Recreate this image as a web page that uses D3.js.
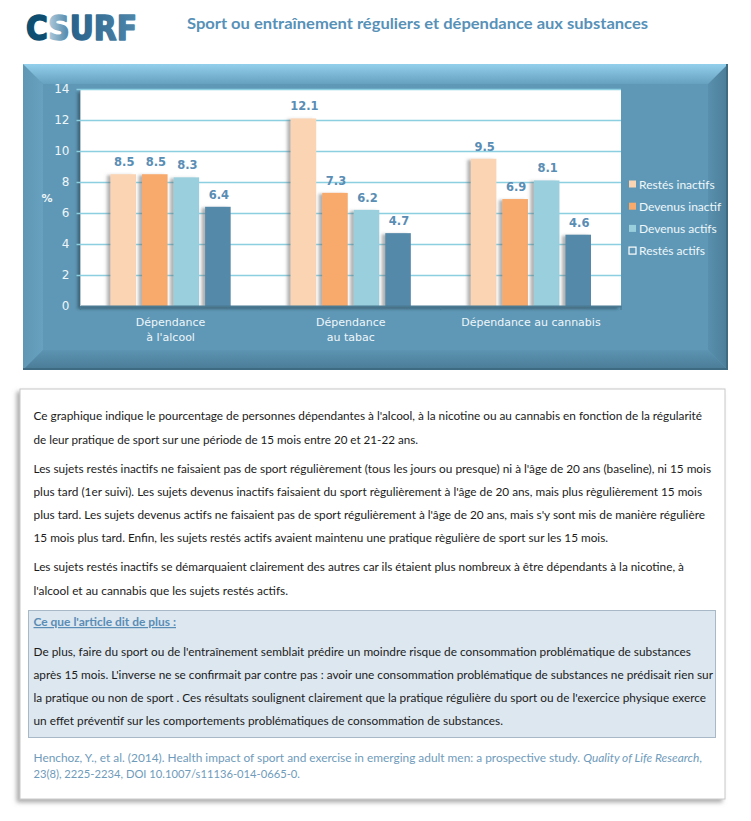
<!DOCTYPE html>
<html><head><meta charset="utf-8">
<script src="https://cdn.jsdelivr.net/npm/d3@7/dist/d3.min.js"></script>
<style>body{margin:0;background:#fff}svg{display:block}</style>
</head><body><svg id="c" width="751" height="821"></svg>
<script>
// ---- chart data ----
const categories = ["Dépendance\nà l'alcool", "Dépendance\nau tabac", "Dépendance au cannabis"];
const seriesNames = ["Restés inactifs", "Devenus inactif", "Devenus actifs", "Restés actifs"];
const restesInactifs = [8.5, 12.1, 9.5];
const devenusInactif = [8.5, 7.3, 6.9];
const devenusActifs = [8.3, 6.2, 8.1];
const restesActifs = [6.4, 4.7, 4.6];
const yTicks = [0, 2, 4, 6, 8, 10, 12, 14];
const seriesColors = ["#fbd4b4", "#f8aa6c", "#9acfdd", "#5589a9"];
const title = "Sport ou entraînement réguliers et dépendance aux substances";

const seriesValues = [restesInactifs, devenusInactif, devenusActifs, restesActifs];

// ---- text block content ----
const para = [
  {t: "Ce graphique indique le pourcentage de personnes dépendantes à l'alcool, à la nicotine ou au cannabis en fonction de la régularité", y: 420, x2: 702},
  {t: "de leur pratique de sport sur une période de 15 mois entre 20 et 21-22 ans.", y: 444, x2: 418},
  {t: "Les sujets restés inactifs ne faisaient pas de sport régulièrement (tous les jours ou presque) ni à l'âge de 20 ans (baseline), ni 15 mois", y: 473, x2: 711},
  {t: "plus tard (1er suivi). Les sujets devenus inactifs faisaient du sport règulièrement à l'âge de 20 ans, mais plus règulièrement 15 mois", y: 496, x2: 702},
  {t: "plus tard. Les sujets devenus actifs ne faisaient pas de sport régulièrement à l'âge de 20 ans, mais s'y sont mis de manière régulière", y: 519, x2: 705},
  {t: "15 mois plus tard. Enfin, les sujets restés actifs avaient maintenu une pratique règulière de sport sur les 15 mois.", y: 542, x2: 608},
  {t: "Les sujets restés inactifs se démarquaient clairement des autres car ils étaient plus nombreux à être dépendants à la nicotine, à", y: 571, x2: 684},
  {t: "l'alcool et au cannabis que les sujets restés actifs.", y: 595, x2: 288}
];
const boxHeading = {t: "Ce que l'article dit de plus :", y: 626, x2: 176};
const boxLines = [
  {t: "De plus, faire du sport ou de l'entraînement semblait prédire un moindre risque de consommation problématique de substances", y: 656, x2: 691},
  {t: "après 15 mois. L'inverse ne se confirmait par contre pas : avoir une consommation problématique de substances ne prédisait rien sur", y: 679, x2: 713},
  {t: "la pratique ou non de sport . Ces résultats soulignent clairement que la pratique régulière du sport ou de l'exercice physique exerce", y: 702, x2: 706},
  {t: "un effet préventif sur les comportements problématiques de consommation de substances.", y: 725, x2: 503}
];

const svg = d3.select("#c");
const defs = svg.append("defs");
function lg(id, x2, y2, stops) {
  const g = defs.append("linearGradient").attr("id", id).attr("x1", 0).attr("y1", 0).attr("x2", x2).attr("y2", y2);
  stops.forEach(s => g.append("stop").attr("offset", s[0]).attr("stop-color", s[1]));
}
lg("gTop", 0, 1, [[0, "#93d0ec"], [1, "#66a1bf"]]);
lg("gLeft", 1, 0, [[0, "#5f97b4"], [1, "#67a1bf"]]);
lg("gRight", 1, 0, [[0, "#5990ad"], [1, "#4b7d98"]]);
lg("gBot", 0, 1, [[0, "#5c94b1"], [1, "#4a7b96"]]);
lg("gLogo", 1, 0, [[0, "#0e4e71"], [0.2, "#0e4e71"], [0.215, "#a9c6d8"], [0.39, "#4d85a8"], [0.405, "#28618a"], [1, "#4f86aa"]]);
const f1 = defs.append("filter").attr("id", "shPlot").attr("x", "-5%").attr("y", "-5%").attr("width", "110%").attr("height", "110%");
f1.append("feDropShadow").attr("dx", -3).attr("dy", 3).attr("stdDeviation", 1.8).attr("flood-color", "#1f3a4a").attr("flood-opacity", 0.55);
const f2 = defs.append("filter").attr("id", "shBar").attr("x", "-40%").attr("y", "-5%").attr("width", "150%").attr("height", "110%");
f2.append("feDropShadow").attr("dx", -3.5).attr("dy", 1).attr("stdDeviation", 1.4).attr("flood-color", "#666").attr("flood-opacity", 0.5);
const f3 = defs.append("filter").attr("id", "shBox").attr("x", "-3%").attr("y", "-3%").attr("width", "106%").attr("height", "106%");
f3.append("feDropShadow").attr("dx", -3).attr("dy", 3).attr("stdDeviation", 2).attr("flood-color", "#777").attr("flood-opacity", 0.6);

// ---- header ----
svg.append("text").attr("x", 26).attr("y", 39.5)
  .attr("font-family", "DejaVu Sans, Liberation Sans, sans-serif").attr("font-weight", 700)
  .attr("font-size", 34).attr("textLength", 111).attr("lengthAdjust", "spacingAndGlyphs")
  .attr("fill", "url(#gLogo)").attr("stroke", "url(#gLogo)").attr("stroke-width", 1.6).attr("stroke-linejoin", "round")
  .text("CSURF");

svg.append("text").attr("x", 187).attr("y", 29)
  .attr("font-family", "Lato, sans-serif").attr("font-weight", 700).attr("font-size", 15.5)
  .attr("fill", "#5791b8").attr("textLength", 461).attr("lengthAdjust", "spacingAndGlyphs")
  .text(title);

// ---- chart panel ----
const X0 = 23, X1 = 728, Y0 = 64, Y1 = 370, B = 20;
const panel = svg.append("g");
panel.append("rect").attr("x", X0).attr("y", Y0).attr("width", X1 - X0).attr("height", Y1 - Y0).attr("fill", "#5f98b6");
const poly = (pts, fill) => panel.append("polygon").attr("points", pts.map(p => p.join(",")).join(" ")).attr("fill", fill);
poly([[X0, Y0], [X0 + B, Y0 + B], [X0 + B, Y1 - B], [X0, Y1]], "url(#gLeft)");
poly([[X1, Y0], [X1, Y1], [X1 - B, Y1 - B], [X1 - B, Y0 + B]], "url(#gRight)");
poly([[X0, Y1], [X1, Y1], [X1 - B, Y1 - B], [X0 + B, Y1 - B]], "url(#gBot)");
poly([[X0, Y0], [X1, Y0], [X1 - B, Y0 + B], [X0 + B, Y0 + B]], "url(#gTop)");
panel.append("line").attr("x1", X0).attr("x2", X1).attr("y1", Y1 - 1).attr("y2", Y1 - 1).attr("stroke", "#3e6a82").attr("stroke-width", 2);
panel.append("line").attr("x1", X1 - 1).attr("x2", X1 - 1).attr("y1", Y0).attr("y2", Y1).attr("stroke", "#3e6a82").attr("stroke-width", 2);

// ---- scales ----
const PL = 80.5, PR = 621, PT = 89, PB = 306;
const x0 = d3.scaleBand().domain(categories).range([PL, PR]).paddingInner(0).paddingOuter(0);
const x1 = d3.scaleBand().domain(seriesNames).range([30, x0.bandwidth() - 30]).paddingInner(0.19).paddingOuter(0);
const y = d3.scaleLinear().domain([0, 14]).range([PB, PT]);
const color = d3.scaleOrdinal().domain(seriesNames).range(seriesColors);

// plot area
svg.append("rect").attr("x", PL).attr("y", PT).attr("width", PR - PL).attr("height", PB - PT)
  .attr("fill", "#fff").attr("filter", "url(#shPlot)");

// gridlines + y axis
const yAxis = d3.axisLeft(y).tickValues(yTicks).tickSize(PR - PL + 4).tickPadding(7).tickFormat(d3.format("d"));
const gy = svg.append("g").attr("transform", `translate(${PR},0)`).call(yAxis);
gy.select(".domain").remove();
gy.selectAll(".tick line").attr("stroke", "#8ccfe1").attr("stroke-width", 1.5);
gy.selectAll(".tick").filter(d => d === 0).select("line").remove();
gy.selectAll(".tick text").attr("fill", "#eef6fa").attr("font-size", 12)
  .attr("font-family", "DejaVu Sans, sans-serif").attr("x", -(PR - PL + 11));

svg.append("text").attr("x", 47).attr("y", 202).attr("text-anchor", "middle")
  .attr("font-family", "DejaVu Sans, sans-serif").attr("font-weight", 700).attr("font-size", 11)
  .attr("fill", "#eef6fa").text("%");

// bars
const groups = svg.append("g").selectAll("g").data(categories).join("g")
  .attr("transform", d => `translate(${x0(d)},0)`);
groups.selectAll("rect").data((c, ci) => seriesNames.map((s, si) => ({s, v: seriesValues[si][ci]})))
  .join("rect")
  .attr("x", d => x1(d.s)).attr("width", x1.bandwidth())
  .attr("y", d => y(d.v)).attr("height", d => y(0) - y(d.v))
  .attr("fill", d => color(d.s)).attr("filter", "url(#shBar)");
groups.selectAll("text").data((c, ci) => seriesNames.map((s, si) => ({s, v: seriesValues[si][ci]})))
  .join("text")
  .attr("x", d => x1(d.s) + x1.bandwidth() / 2 + 1).attr("y", d => y(d.v) - 8)
  .attr("text-anchor", "middle").attr("font-family", "DejaVu Sans, sans-serif").attr("font-weight", 700)
  .attr("font-size", 11.5).attr("fill", "#5a8db4").text(d => d3.format(".1f")(d.v));

// x axis
const xAxis = d3.axisBottom(x0).tickSize(0).tickFormat("");
const gx = svg.append("g").attr("transform", `translate(0,${PB})`).call(xAxis);
gx.select(".domain").attr("stroke", "#4b7a93").attr("stroke-width", 2);
const bounds = [PL, ...categories.map(c => x0(c) + x0.bandwidth())];
svg.append("g").selectAll("line").data(bounds).join("line")
  .attr("x1", d => d).attr("x2", d => d).attr("y1", PB).attr("y2", PB + 4)
  .attr("stroke", "#4b7a93").attr("stroke-width", 1.2);
svg.append("g").selectAll("text").data(categories).join("text")
  .attr("text-anchor", "middle").attr("font-family", "DejaVu Sans, sans-serif").attr("font-size", 11)
  .attr("fill", "#eef6fa")
  .each(function (c) {
    const t = d3.select(this);
    c.split("\n").forEach((line, i) => t.append("tspan").attr("x", x0(c) + x0.bandwidth() / 2).attr("y", 326 + i * 15).text(line));
  });

// legend
const lgG = svg.append("g").selectAll("g").data(seriesNames).join("g")
  .attr("transform", (d, i) => `translate(629,${184 + i * 22.2})`);
lgG.append("rect").attr("x", 0).attr("y", -3.5).attr("width", 7).attr("height", 7)
  .attr("fill", (d, i) => i === 3 ? "none" : color(d))
  .attr("stroke", (d, i) => i === 3 ? "#ffffff" : "none").attr("stroke-width", 1.2);
lgG.append("text").attr("x", 10).attr("y", 4.5).attr("font-family", "Lato, sans-serif").attr("font-size", 12)
  .attr("fill", "#eef7fb").text(d => d);

// ---- text box ----
svg.append("rect").attr("x", 20).attr("y", 389).attr("width", 705).attr("height", 410)
  .attr("fill", "#fff").attr("stroke", "#c8c8c8").attr("stroke-width", 1).attr("filter", "url(#shBox)");
svg.append("rect").attr("x", 28.5).attr("y", 610.5).attr("width", 687).attr("height", 127)
  .attr("fill", "#dde7f0").attr("stroke", "#a9b8c7").attr("stroke-width", 1);

function line(o, opts) {
  const t = svg.append("text").attr("x", 33.5).attr("y", o.y)
    .attr("font-family", "Lato, sans-serif").attr("font-size", 12)
    .attr("fill", opts && opts.fill || "#1b1b1b")
    .attr("textLength", o.x2 - 33.5).attr("lengthAdjust", "spacingAndGlyphs");
  if (opts && opts.bold) t.attr("font-weight", 700);
  if (opts && opts.underline) t.attr("text-decoration", "underline");
  return t;
}
para.forEach(o => line(o).text(o.t));
line(boxHeading, {fill: "#5a8db6", bold: true, underline: true}).text(boxHeading.t);
boxLines.forEach(o => line(o).text(o.t));

const c1 = line({y: 762, x2: 702}, {fill: "#6f9bbb"});
c1.append("tspan").text("Henchoz, Y., et al. (2014). Health impact of sport and exercise in emerging adult men: a prospective study. ");
c1.append("tspan").attr("font-style", "italic").text("Quality of Life Research");
c1.append("tspan").text(",");
line({y: 778, x2: 300}, {fill: "#6f9bbb"}).text("23(8), 2225-2234, DOI 10.1007/s11136-014-0665-0.");
</script></body></html>
